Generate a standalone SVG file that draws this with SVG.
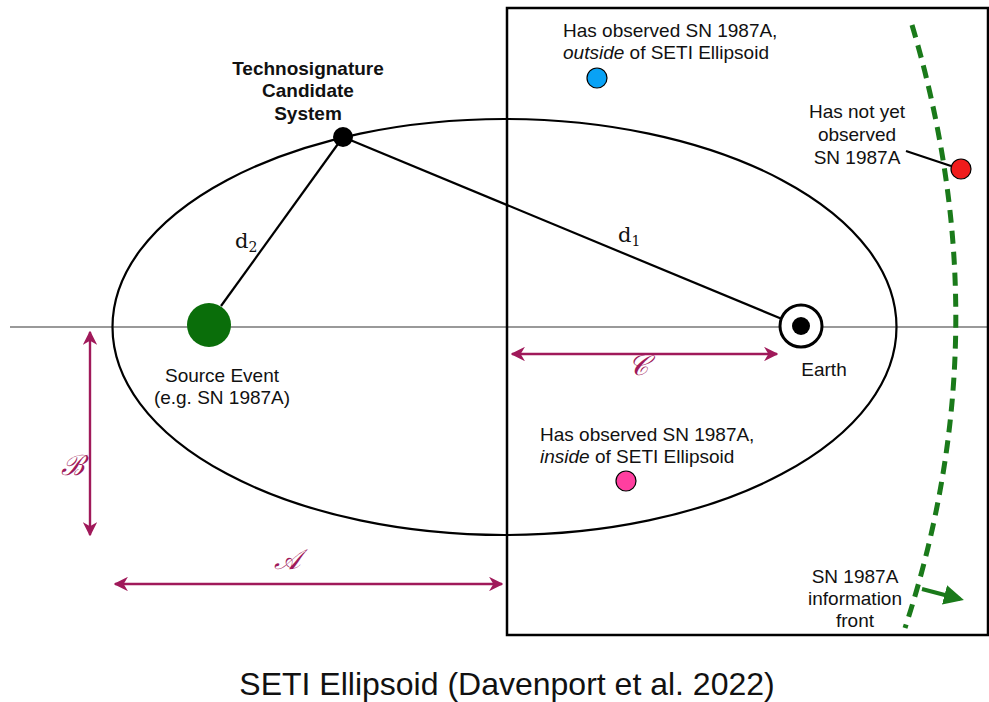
<svg xmlns="http://www.w3.org/2000/svg" width="989" height="702" viewBox="0 0 989 702">
<style>
.t{font-family:"Liberation Sans",Arial,sans-serif;font-size:19px;fill:#111}
.b{font-family:"Liberation Sans",Arial,sans-serif;font-size:19px;font-weight:bold;fill:#111}
.m{font-family:"DejaVu Serif","Liberation Serif",serif;font-size:21px;fill:#111}
.s{font-family:"DejaVu Serif","Liberation Serif",serif;font-size:28px;font-style:italic;fill:#a0195a}
.ln{stroke:#000;stroke-width:2.2;fill:none}
.dim{stroke:#a0195a;stroke-width:2.4;fill:none}
</style>
<defs>
<marker id="mh" viewBox="0 0 10 10" refX="9" refY="5" markerWidth="6" markerHeight="6" orient="auto-start-reverse" markerUnits="strokeWidth">
<path d="M0,0 L10,5 L0,10 L3,5 Z" fill="#a0195a"/>
</marker>
<marker id="gh" viewBox="0 0 10 10" refX="8" refY="5" markerWidth="5" markerHeight="5" orient="auto" markerUnits="strokeWidth">
<path d="M0,0 L10,5 L0,10 Z" fill="#1a7a1a"/>
</marker>
</defs>
<rect width="989" height="702" fill="#fff"/>
<g id="axis"><line x1="10" y1="327" x2="989" y2="327" stroke="#999" stroke-width="2"/></g>
<g id="region"><rect x="507" y="8" width="481" height="627" fill="none" stroke="#000" stroke-width="2.5"/></g>
<g id="ellipse"><ellipse cx="504.5" cy="327" rx="392" ry="208" class="ln" stroke-width="3.2"/></g>
<g id="connectors">
<line x1="343" y1="137" x2="221" y2="306" class="ln"/>
<line x1="343" y1="137" x2="782" y2="319" class="ln"/>
<line x1="906" y1="151" x2="951" y2="166" class="ln"/>
<line x1="512" y1="354" x2="777" y2="354" class="dim" marker-start="url(#mh)" marker-end="url(#mh)"/>
<line x1="90" y1="332" x2="90" y2="535" class="dim" marker-start="url(#mh)" marker-end="url(#mh)"/>
<line x1="115" y1="584" x2="502" y2="584" class="dim" marker-start="url(#mh)" marker-end="url(#mh)"/>
<path d="M912,25 Q1003,330 905,628" fill="none" stroke="#1a7a1a" stroke-width="5" stroke-dasharray="13,8"/>
<line x1="922" y1="589" x2="960" y2="599" stroke="#1a7a1a" stroke-width="4" marker-end="url(#gh)"/>
</g>
<g id="source"><circle cx="209" cy="325" r="22" fill="#0a6e0a"/>
<text class="t" x="222" y="382" text-anchor="middle">Source Event</text>
<text class="t" x="222" y="404" text-anchor="middle">(e.g. SN 1987A)</text></g>
<g id="candidate"><circle cx="343" cy="137" r="10" fill="#000"/>
<text class="b" x="308" y="75" text-anchor="middle">Technosignature</text>
<text class="b" x="308" y="97" text-anchor="middle">Candidate</text>
<text class="b" x="308" y="120" text-anchor="middle">System</text></g>
<g id="earth"><circle cx="801" cy="326" r="21" fill="#fff" stroke="#000" stroke-width="3"/>
<circle cx="801" cy="326" r="9" fill="#000"/>
<text class="t" x="824" y="376" text-anchor="middle" font-size="23">Earth</text></g>
<g id="outside"><circle cx="597" cy="78" r="10" fill="#09a2f5" stroke="#000" stroke-width="1.2"/>
<text class="t" x="563" y="37">Has observed SN 1987A,</text>
<text class="t" x="563" y="59"><tspan font-style="italic">outside</tspan> of SETI Ellipsoid</text></g>
<g id="inside"><circle cx="626" cy="481" r="10" fill="#ff3fa0" stroke="#000" stroke-width="1.2"/>
<text class="t" x="540" y="441">Has observed SN 1987A,</text>
<text class="t" x="540" y="463"><tspan font-style="italic">inside</tspan> of SETI Ellipsoid</text></g>
<g id="notyet"><circle cx="961" cy="169" r="10" fill="#f01c1c" stroke="#000" stroke-width="1.2"/>
<text class="t" x="857" y="118" text-anchor="middle">Has not yet</text>
<text class="t" x="857" y="141" text-anchor="middle">observed</text>
<text class="t" x="857" y="164" text-anchor="middle">SN 1987A</text></g>
<g id="front">
<text class="t" x="855" y="583" text-anchor="middle">SN 1987A</text>
<text class="t" x="855" y="605" text-anchor="middle">information</text>
<text class="t" x="855" y="627" text-anchor="middle">front</text></g>
<g id="labels">
<text class="m" x="235" y="248">d<tspan font-size="14" dy="4">2</tspan></text>
<text class="m" x="618" y="242">d<tspan font-size="14" dy="4">1</tspan></text>
<text class="s" x="638" y="375" text-anchor="middle">𝒞</text>
<text class="s" x="72" y="475" text-anchor="middle">ℬ</text>
<text class="s" x="287" y="569" text-anchor="middle">𝒜</text>
</g>
<g id="caption"><text x="507" y="695" text-anchor="middle" font-family="Liberation Sans,Arial,sans-serif" font-size="32" fill="#111">SETI Ellipsoid (Davenport et al. 2022)</text></g>
</svg>
